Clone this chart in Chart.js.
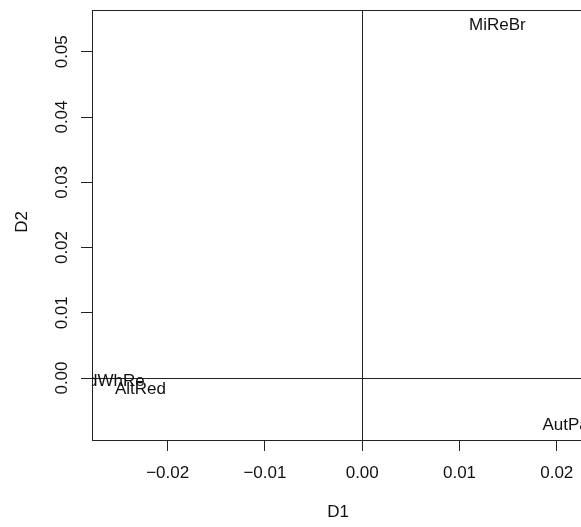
<!DOCTYPE html>
<html>
<head>
<title>D1 vs D2</title>
<script src="https://cdn.jsdelivr.net/npm/chart.js@4.4.1/dist/chart.umd.min.js"></script>
<style>
  html, body { margin: 0; padding: 0; background: #fff; overflow: hidden; }
  .chart-wrapper { position: relative; width: 600px; height: 527px; }
</style>
</head>
<body>
<div class="chart-wrapper">
  <canvas id="myChart" width="600" height="527"></canvas>
</div>
<script>
  // point labels and their coordinates
  const labelNames = ["MiReBr", "AutPar", "RedWhRe", "AltRed"];
  const d1Values = [0.0139, 0.0212, -0.0264, -0.0228];
  const d2Values = [0.0541, -0.0072, -0.0005, -0.0018];

  // axis ticks
  const xTicks = [-0.02, -0.01, 0.00, 0.01, 0.02];
  const yTicks = [0.00, 0.01, 0.02, 0.03, 0.04, 0.05];
  const xRange = [-0.02778, 0.02249];
  const yRange = [-0.0095, 0.0564];

  const FONT = "'Liberation Sans', Arial, Helvetica, sans-serif";
  const fmt = v => (v < 0 ? "\u2212" : "") + Math.abs(v).toFixed(2);

  // draws the frame, the rotated y labels, axis titles and the point labels
  const textPlugin = {
    id: "textPlugin",
    afterDraw(chart) {
      const c = chart.ctx;
      const a = chart.chartArea;
      const xs = chart.scales.x, ys = chart.scales.y;
      c.save();
      c.strokeStyle = "#222";
      c.lineWidth = 1;
      c.strokeRect(Math.round(a.left) + 0.5, Math.round(a.top) + 0.5,
        Math.round(a.right - a.left), Math.round(a.bottom - a.top));

      c.fillStyle = "#111";
      c.font = "17px " + FONT;
      c.textAlign = "center";
      c.textBaseline = "middle";

      // y tick labels, rotated like R does
      yTicks.forEach(v => {
        c.save();
        c.translate(62, ys.getPixelForValue(v));
        c.rotate(-Math.PI / 2);
        c.fillText(v.toFixed(2), 0, 0);
        c.restore();
      });

      // axis titles
      c.fillText("D1", 338, 512);
      c.save();
      c.translate(22, 222);
      c.rotate(-Math.PI / 2);
      c.fillText("D2", 0, 0);
      c.restore();

      // point labels, clipped to the plot region
      c.beginPath();
      c.rect(a.left, a.top, a.right - a.left, a.bottom - a.top);
      c.clip();
      labelNames.forEach((name, i) => {
        c.fillText(name, xs.getPixelForValue(d1Values[i]), ys.getPixelForValue(d2Values[i]));
      });
      c.restore();
    }
  };

  const ctx = document.getElementById("myChart");
  const myChart = new Chart(ctx, {
    type: "scatter",
    data: {
      datasets: [{
        data: d1Values.map((x, i) => ({ x: x, y: d2Values[i] })),
        pointRadius: 0,
        pointHoverRadius: 0
      }]
    },
    options: {
      responsive: false,
      animation: false,
      events: [],
      layout: { padding: { top: 10, right: 19, left: 0, bottom: 0 } },
      plugins: { legend: { display: false }, tooltip: { enabled: false } },
      scales: {
        x: {
          type: "linear",
          min: xRange[0],
          max: xRange[1],
          afterBuildTicks: s => { s.ticks = xTicks.map(v => ({ value: v })); },
          afterFit: s => { s.height = 87; },
          border: { display: false },
          grid: {
            drawOnChartArea: true,
            color: c => (c.tick && Math.abs(c.tick.value) < 1e-9) ? "#222" : "rgba(0,0,0,0)",
            tickColor: "#222",
            tickLength: 11,
            lineWidth: 1
          },
          ticks: {
            color: "#111",
            font: { family: FONT, size: 17 },
            padding: 12,
            maxRotation: 0,
            callback: v => fmt(v)
          }
        },
        y: {
          type: "linear",
          min: yRange[0],
          max: yRange[1],
          afterBuildTicks: s => { s.ticks = yTicks.map(v => ({ value: v })); },
          afterFit: s => { s.width = 92; },
          border: { display: false },
          grid: {
            drawOnChartArea: true,
            color: c => (c.tick && Math.abs(c.tick.value) < 1e-9) ? "#222" : "rgba(0,0,0,0)",
            tickColor: "#222",
            tickLength: 11,
            lineWidth: 1
          },
          ticks: { display: false }
        }
      }
    },
    plugins: [textPlugin]
  });
</script>
</body>
</html>
